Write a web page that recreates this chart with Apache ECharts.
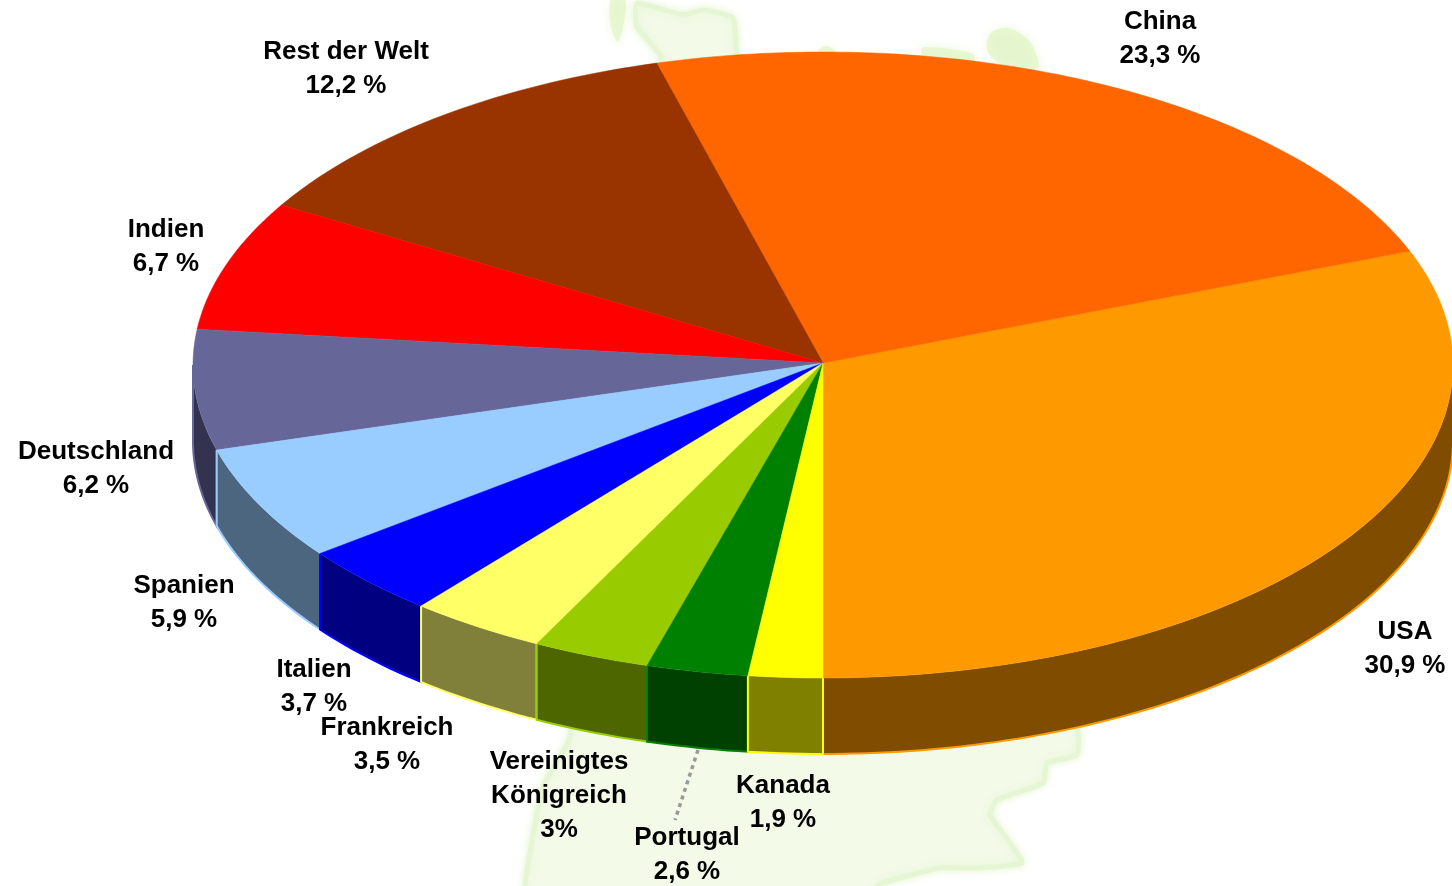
<!DOCTYPE html>
<html>
<head>
<meta charset="utf-8">
<style>html,body{margin:0;padding:0;background:#fff}#c{width:1452px;height:886px}</style>
<script src="https://cdn.jsdelivr.net/npm/echarts@6/dist/echarts.min.js"></script>
</head>
<body>
<div id="c"></div>
<script>
// Data
const categories = ['USA','China','Rest der Welt','Indien','Deutschland','Spanien','Italien','Frankreich','Vereinigtes\nKönigreich','Portugal','Kanada'];
const shares = [30.9,23.3,12.2,6.7,6.2,5.9,3.7,3.5,3,2.6,1.9];
const shareTexts = ['30,9 %','23,3 %','12,2 %','6,7 %','6,2 %','5,9 %','3,7 %','3,5 %','3%','2,6 %','1,9 %'];
// Styles
const topColors = ['#ff9900','#ff6600','#993300','#ff0000','#666699','#99ccff','#0000ff','#ffff66','#99cc00','#008000','#ffff00'];
const sideColors = ['#804d00','#803300','#4d1a00','#800000','#333350','#4d6680','#000080','#80803a','#4d6600','#004000','#808000'];
// Layout
const pie = {cx:823, cy:365, rx:630, ry:313, depth:76};
const labelCenters = [[1405,632],[1160,22],[346,52],[166,230],[96,452],[184,586],[314,670],[387,728],[559,762],[687,838],[783,786]];

const total = shares.reduce((a,b)=>a+b,0);
const startFrac = [];
shares.reduce((acc,v,i)=>{startFrac[i]=acc;return acc+v/total;},0);
function pt(deg,dy){
  const r=deg*Math.PI/180;
  return [pie.cx+pie.rx*Math.cos(r), pie.cy-pie.ry*Math.sin(r)+(dy||0)];
}
function arc(a0,a1,dy){
  const n=Math.max(2,Math.ceil(Math.abs(a1-a0)));
  const out=[];
  for(let i=0;i<=n;i++) out.push(pt(a0+(a1-a0)*i/n,dy));
  return out;
}
function range(i){
  const a0=-90+360*startFrac[i];
  return [a0,a0+360*shares[i]/total];
}
function renderSide(params){
  const i=params.dataIndex;
  let [a0,a1]=range(i);
  if(a0<0){a0+=360;a1+=360;}
  const lo=Math.max(a0,180), hi=Math.min(a1,360);
  if(lo>=hi) return {type:'group',children:[]};
  const upper=arc(lo,hi,0), lower=arc(lo,hi,pie.depth);
  const outline=[pt(lo,0)].concat(lower,[pt(hi,0)]);
  return {type:'group',children:[
    {type:'polygon',shape:{points:upper.concat(lower.slice().reverse())},style:{fill:sideColors[i]}},
    {type:'polyline',shape:{points:outline},style:{fill:'none',stroke:topColors[i],lineWidth:2}}
  ]};
}
function renderTop(params){
  const i=params.dataIndex;
  const [a0,a1]=range(i);
  const pts=[[pie.cx,pie.cy-2]].concat(arc(a0,a1,0));
  return {type:'polygon',shape:{points:pts},style:{fill:topColors[i],stroke:topColors[i],lineWidth:0.5}};
}

const mapShapes = [
  [[637,3],[683,15],[703,10],[733,18],[738,60],[1077,728],[1077,755],[1047,763],[1043,783],[997,800],[990,815],[1010,843],[1022,863],[977,868],[940,868],[880,884],[860,900],[527,900],[530,853],[543,787],[570,737],[662,60],[637,27]]
];
const mapBlobs = [
  [[611,0],[625,0],[624,22],[618,42],[611,26]],
  [[817,52],[826,46],[836,52]],
  [[923,47],[973,54],[973,66],[923,56]],
  [[990,34],[1008,28],[1030,42],[1038,68],[1005,66],[988,52]]
];
const graphics = [];
mapShapes.forEach(p=>graphics.push({type:'polygon',z:0,silent:true,shape:{points:p,smooth:0.15},
  style:{fill:'#f3fae8',stroke:'#e6f5d3',lineWidth:5,shadowBlur:8,shadowColor:'#e6f5d3'}}));
mapBlobs.forEach(p=>graphics.push({type:'polygon',z:0,silent:true,shape:{points:p,smooth:0.3},
  style:{fill:'#e3f6c9',opacity:0.75,shadowBlur:8,shadowColor:'#e4f6cc'}}));
graphics.push({type:'polyline',z:5,silent:true,shape:{points:[[698,750],[675,820]]},
  style:{fill:'none',stroke:'#999999',lineWidth:3.5,lineDash:[4,4]}});
categories.forEach((c,i)=>{
  const lines=c.split('\n').concat([shareTexts[i]]);
  lines.forEach((t,k)=>graphics.push({type:'text',z:10,silent:true,x:labelCenters[i][0],y:labelCenters[i][1]+k*34,
    style:{text:t,fill:'#000',font:'bold 26px "Liberation Sans", Arial, sans-serif',textAlign:'center',textVerticalAlign:'middle'}}));
});

const chart=echarts.init(document.getElementById('c'),null,{renderer:'canvas'});
chart.setOption({
  animation:false,
  backgroundColor:'#ffffff',
  graphic:{elements:graphics},
  series:[
    {type:'custom',name:'Seiten',coordinateSystem:'none',z:2,silent:true,renderItem:renderSide,data:shares},
    {type:'custom',name:'Anteile',coordinateSystem:'none',z:3,silent:true,renderItem:renderTop,data:shares}
  ]
});
</script>
</body>
</html>
